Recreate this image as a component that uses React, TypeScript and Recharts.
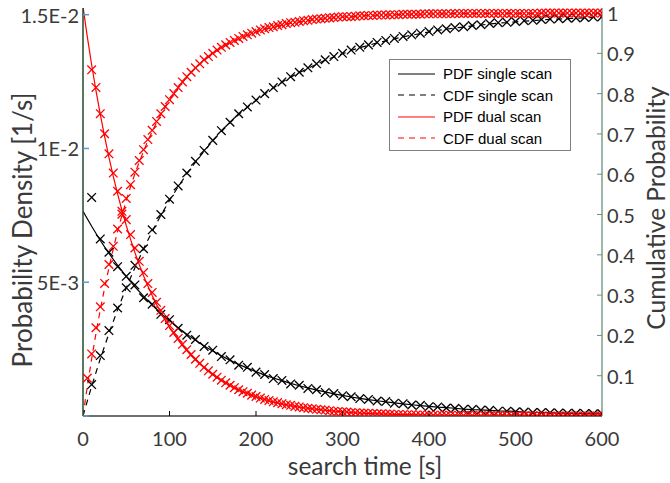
import React from "react";
import {
  ComposedChart,
  Line,
  Scatter,
  XAxis,
  YAxis,
  Legend,
} from "recharts";

// time grids [s]
const tSingle = [
  0, 10, 20, 30, 40, 50, 60, 70, 80, 90, 100, 110, 120, 130, 140, 150, 160, 170, 180, 190, 200,
  210, 220, 230, 240, 250, 260, 270, 280, 290, 300, 310, 320, 330, 340, 350, 360, 370, 380, 390, 400,
  410, 420, 430, 440, 450, 460, 470, 480, 490, 500, 510, 520, 530, 540, 550, 560, 570, 580, 590, 600,
];
const tDual = [
  0, 5, 10, 15, 20, 25, 30, 35, 40, 45, 50, 55, 60, 65, 70, 75, 80, 85, 90, 95, 100,
  105, 110, 115, 120, 125, 130, 135, 140, 145, 150, 155, 160, 165, 170, 175, 180, 185, 190, 195, 200,
  205, 210, 215, 220, 225, 230, 235, 240, 245, 250, 255, 260, 265, 270, 275, 280, 285, 290, 295, 300,
  305, 310, 315, 320, 325, 330, 335, 340, 345, 350, 355, 360, 365, 370, 375, 380, 385, 390, 395, 400,
  405, 410, 415, 420, 425, 430, 435, 440, 445, 450, 455, 460, 465, 470, 475, 480, 485, 490, 495, 500,
  505, 510, 515, 520, 525, 530, 535, 540, 545, 550, 555, 560, 565, 570, 575, 580, 585, 590, 595, 600,
];

// PDF values in units of 1E-3 1/s
const pdfSingle = [
  7.65, 7.09, 6.56, 6.08, 5.63, 5.22, 4.83, 4.48, 4.15, 3.84, 3.56, 3.30, 3.06, 2.83, 2.62, 2.43,
  2.25, 2.08, 1.93, 1.79, 1.66, 1.53, 1.42, 1.32, 1.22, 1.13, 1.05, 0.97, 0.90, 0.83, 0.77, 0.71,
  0.66, 0.61, 0.57, 0.53, 0.49, 0.45, 0.42, 0.39, 0.36, 0.33, 0.31, 0.29, 0.26, 0.24, 0.23, 0.21,
  0.19, 0.18, 0.17, 0.15, 0.14, 0.13, 0.12, 0.11, 0.11, 0.10, 0.09, 0.08, 0.08,
];
const pdfSingleMeas = [
  null, 8.17, 6.62, 6.12, 5.58, 5.22, 4.90, 4.42, 4.18, 3.80, 3.60, 3.28, 3.02, 2.86, 2.60, 2.46,
  2.22, 2.10, 1.90, 1.82, 1.64, 1.55, 1.40, 1.33, 1.20, 1.15, 1.03, 0.98, 0.88, 0.84, 0.76, 0.72,
  0.65, 0.62, 0.56, 0.54, 0.48, 0.46, 0.41, 0.40, 0.35, 0.34, 0.30, 0.29, 0.25, 0.25, 0.22, 0.21,
  0.18, 0.18, 0.16, 0.15, 0.13, 0.13, 0.12, 0.11, 0.10, 0.10, 0.09, 0.08, 0.08,
];
const cdfSingle = [
  0, 0.074, 0.142, 0.205, 0.264, 0.318, 0.368, 0.415, 0.458, 0.498, 0.535, 0.569, 0.601, 0.630,
  0.657, 0.683, 0.706, 0.728, 0.748, 0.766, 0.783, 0.799, 0.814, 0.828, 0.841, 0.852, 0.863, 0.873,
  0.883, 0.891, 0.899, 0.907, 0.914, 0.920, 0.926, 0.931, 0.936, 0.941, 0.945, 0.949, 0.953, 0.957,
  0.960, 0.963, 0.965, 0.968, 0.970, 0.973, 0.975, 0.976, 0.978, 0.980, 0.981, 0.983, 0.984, 0.985,
  0.986, 0.987, 0.988, 0.989, 0.990,
];
const cdfSingleMeas = [
  null, 0.078, 0.150, 0.212, 0.268, 0.318, 0.374, 0.415, 0.462, 0.500, 0.538, 0.571, 0.603, 0.632,
  0.659, 0.684, 0.708, 0.729, 0.750, 0.767, 0.784, 0.800, 0.815, 0.829, 0.842, 0.853, 0.864, 0.874,
  0.884, 0.892, 0.900, 0.908, 0.915, 0.921, 0.927, 0.932, 0.937, 0.942, 0.946, 0.950, 0.954, 0.958,
  0.961, 0.964, 0.966, 0.969, 0.971, 0.974, 0.976, 0.977, 0.979, 0.981, 0.982, 0.984, 0.985, 0.986,
  0.987, 0.988, 0.989, 0.990, 0.991,
];

const pdfDual = [
  15.30, 14.17, 13.13, 12.16, 11.27, 10.44, 9.67, 8.96, 8.30, 7.69, 7.12,
  6.60, 6.11, 5.66, 5.24, 4.86, 4.50, 4.17, 3.86, 3.58, 3.31,
  3.07, 2.84, 2.63, 2.44, 2.26, 2.09, 1.94, 1.80, 1.66, 1.54,
  1.43, 1.32, 1.23, 1.14, 1.05, 0.97, 0.90, 0.84, 0.77, 0.72,
  0.66, 0.62, 0.57, 0.53, 0.49, 0.45, 0.42, 0.39, 0.36, 0.33,
  0.31, 0.29, 0.27, 0.25, 0.23, 0.21, 0.20, 0.18, 0.17, 0.16,
  0.14, 0.13, 0.12, 0.11, 0.10, 0.10, 0.09, 0.08, 0.08, 0.07,
  0.07, 0.06, 0.06, 0.05, 0.05, 0.05, 0.04, 0.04, 0.04, 0.03,
  0.03, 0.03, 0.03, 0.03, 0.02, 0.02, 0.02, 0.02, 0.02, 0.02,
  0.02, 0.01, 0.01, 0.01, 0.01, 0.01, 0.01, 0.01, 0.01, 0.01,
  0.01, 0.01, 0.01, 0.01, 0.01, 0.00, 0.00, 0.00, 0.00, 0.00,
  0.00, 0.00, 0.00, 0.00, 0.00, 0.00, 0.00, 0.00, 0.00, 0.00,
];
const pdfDualMeas = [
  null, null, 12.94, 12.28, 11.30, 10.55, 9.80, 9.08, 8.40, 7.65, 7.34,
  6.78, 6.28, 5.78, 5.36, 4.95, 4.62, 4.25, 3.95, 3.64, 3.38,
  3.12, 2.90, 2.68, 2.48, 2.30, 2.12, 1.97, 1.82, 1.69, 1.56,
  1.45, 1.34, 1.24, 1.15, 1.06, 0.98, 0.91, 0.85, 0.78, 0.73,
  0.67, 0.62, 0.58, 0.53, 0.50, 0.46, 0.42, 0.40, 0.36, 0.34,
  0.31, 0.29, 0.27, 0.25, 0.23, 0.22, 0.20, 0.18, 0.17, 0.16,
  0.15, 0.13, 0.12, 0.11, 0.11, 0.10, 0.09, 0.08, 0.08, 0.07,
  0.07, 0.06, 0.06, 0.05, 0.05, 0.05, 0.04, 0.04, 0.04, 0.03,
  0.03, 0.03, 0.03, 0.03, 0.02, 0.02, 0.02, 0.02, 0.02, 0.02,
  0.02, 0.01, 0.01, 0.01, 0.01, 0.01, 0.01, 0.01, 0.01, 0.01,
  0.01, 0.01, 0.01, 0.01, 0.01, 0.00, 0.00, 0.00, 0.00, 0.00,
  0.00, 0.00, 0.00, 0.00, 0.00, 0.00, 0.00, 0.00, 0.00, 0.00,
];
const cdfDual = [
  0, 0.074, 0.142, 0.205, 0.264, 0.318, 0.368, 0.415, 0.458, 0.498, 0.535,
  0.569, 0.601, 0.630, 0.657, 0.683, 0.706, 0.728, 0.748, 0.766, 0.783,
  0.799, 0.814, 0.828, 0.841, 0.852, 0.863, 0.873, 0.883, 0.891, 0.899,
  0.907, 0.914, 0.920, 0.926, 0.931, 0.936, 0.941, 0.945, 0.949, 0.953,
  0.957, 0.960, 0.963, 0.965, 0.968, 0.970, 0.973, 0.975, 0.976, 0.978,
  0.980, 0.981, 0.983, 0.984, 0.985, 0.986, 0.987, 0.988, 0.989, 0.990,
  0.991, 0.991, 0.992, 0.993, 0.993, 0.994, 0.994, 0.995, 0.995, 0.995,
  0.996, 0.996, 0.996, 0.997, 0.997, 0.997, 0.997, 0.997, 0.998, 0.998,
  0.998, 0.998, 0.998, 0.998, 0.998, 0.999, 0.999, 0.999, 0.999, 0.999,
  0.999, 0.999, 0.999, 0.999, 0.999, 0.999, 0.999, 0.999, 0.999, 0.999,
  0.999, 0.999, 0.999, 0.999, 0.999, 1.000, 1.000, 1.000, 1.000, 1.000,
  1.000, 1.000, 1.000, 1.000, 1.000, 1.000, 1.000, 1.000, 1.000, 1.000,
];
const cdfDualMeas = [
  null, 0.094, 0.154, 0.219, 0.271, 0.329, 0.376, 0.421, 0.464, 0.501, 0.540,
  0.574, 0.605, 0.634, 0.661, 0.686, 0.709, 0.731, 0.750, 0.768, 0.785,
  0.800, 0.815, 0.829, 0.842, 0.853, 0.864, 0.874, 0.884, 0.892, 0.900,
  0.908, 0.915, 0.921, 0.927, 0.932, 0.937, 0.942, 0.946, 0.950, 0.954,
  0.958, 0.961, 0.964, 0.966, 0.969, 0.971, 0.974, 0.976, 0.977, 0.979,
  0.981, 0.982, 0.984, 0.985, 0.986, 0.987, 0.988, 0.989, 0.990, 0.991,
  0.991, 0.991, 0.992, 0.993, 0.993, 0.994, 0.994, 0.995, 0.995, 0.995,
  0.996, 0.996, 0.996, 0.997, 0.997, 0.997, 0.997, 0.997, 0.998, 0.998,
  0.998, 0.998, 0.998, 0.998, 0.998, 0.999, 0.999, 0.999, 0.999, 0.999,
  0.999, 0.999, 0.999, 0.999, 0.999, 0.999, 0.999, 0.999, 0.999, 0.999,
  0.999, 0.999, 0.999, 0.999, 0.999, 1.000, 1.000, 1.000, 1.000, 1.000,
  1.000, 1.000, 1.000, 1.000, 1.000, 1.000, 1.000, 1.000, 1.000, 1.000,
];

const xTicks = [0, 100, 200, 300, 400, 500, 600];
const leftTicks = [0, 0.005, 0.01, 0.015];
const leftTickLabels = ["", "5E-3", "1E-2", "1.5E-2"];
const rightTicks = [0.1, 0.2, 0.3, 0.4, 0.5, 0.6, 0.7, 0.8, 0.9, 1];

const legendItems = [
  { label: "PDF single scan", color: "#000000", dash: undefined },
  { label: "CDF single scan", color: "#000000", dash: "6 5" },
  { label: "PDF dual scan", color: "#ff0000", dash: undefined },
  { label: "CDF dual scan", color: "#ff0000", dash: "6 5" },
];

const W = 670;
const H = 483;
const PLOT_LEFT = 83;
const PLOT_RIGHT = 602;
const PLOT_TOP = 8;
const PLOT_BOTTOM = 416;
const TICK_FONT = "Lato, 'Open Sans', sans-serif";
const TEXT_COLOR = "#3a3a3a";

const singleRows = tSingle.map((t, i) => ({
  t,
  pdf: pdfSingle[i] * 1e-3,
  cdf: cdfSingle[i],
  pdfMeas: pdfSingleMeas[i] == null ? null : (pdfSingleMeas[i] as number) * 1e-3,
  cdfMeas: cdfSingleMeas[i],
}));
const dualRows = tDual.map((t, i) => ({
  t,
  pdf: pdfDual[i] * 1e-3,
  cdf: cdfDual[i],
  pdfMeas: pdfDualMeas[i] == null ? null : (pdfDualMeas[i] as number) * 1e-3,
  cdfMeas: cdfDualMeas[i],
}));

const crossShape = (color: string) => (props: any) => {
  const { cx, cy } = props;
  if (cx == null || cy == null || isNaN(cx) || isNaN(cy)) return <g />;
  const s = 4.3;
  return (
    <g stroke={color} strokeWidth={1.3}>
      <line x1={cx - s} y1={cy - s} x2={cx + s} y2={cy + s} />
      <line x1={cx - s} y1={cy + s} x2={cx + s} y2={cy - s} />
    </g>
  );
};

const BottomTick = (props: any) => {
  const { x, payload } = props;
  const v = payload.value;
  return (
    <g>
      {v > 0 && v < 600 && (
        <line x1={x} x2={x} y1={PLOT_BOTTOM} y2={PLOT_BOTTOM - 5} stroke="#000" strokeWidth={1} />
      )}
      <text
        x={x}
        y={438}
        textAnchor="middle"
        dominantBaseline="central"
        fontFamily={TICK_FONT}
        fontSize={20}
        fill={TEXT_COLOR}
      >
        {v}
      </text>
    </g>
  );
};

const TopTick = (props: any) => {
  const { x, payload } = props;
  const v = payload.value;
  if (v <= 0 || v >= 600) return <g />;
  return <line x1={x} x2={x} y1={PLOT_TOP} y2={PLOT_TOP + 5} stroke="#000" strokeWidth={1} />;
};

const LeftTick = (props: any) => {
  const { y, payload } = props;
  const idx = leftTicks.indexOf(payload.value);
  return (
    <g>
      <line x1={PLOT_LEFT} x2={PLOT_LEFT + 6} y1={y} y2={y} stroke="#5b9bd5" strokeWidth={1.5} />
      <text
        x={79}
        y={y}
        textAnchor="end"
        dominantBaseline="central"
        fontFamily={TICK_FONT}
        fontSize={20}
        fill={TEXT_COLOR}
      >
        {leftTickLabels[idx]}
      </text>
    </g>
  );
};

const RightTick = (props: any) => {
  const { y, payload } = props;
  return (
    <g>
      {payload.value < 1 && (
        <line x1={PLOT_RIGHT - 5} x2={PLOT_RIGHT} y1={y} y2={y} stroke="#6f8f7f" strokeWidth={1} />
      )}
      <text
        x={607}
        y={y}
        textAnchor="start"
        dominantBaseline="central"
        fontFamily={TICK_FONT}
        fontSize={20}
        fill={TEXT_COLOR}
      >
        {payload.value}
      </text>
    </g>
  );
};

const LegendBox = () => (
  <div
    style={{
      position: "absolute",
      left: 389,
      top: 59,
      width: 182,
      height: 92,
      border: "1px solid #7f7f7f",
      background: "#fff",
      boxSizing: "border-box",
      paddingTop: 3,
    }}
  >
    {legendItems.map((it) => (
      <div
        key={it.label}
        style={{ display: "flex", alignItems: "center", height: 21.5 }}
      >
        <svg width={52} height={10} style={{ marginLeft: 7 }}>
          <line
            x1={1}
            x2={38}
            y1={5}
            y2={5}
            stroke={it.color}
            strokeWidth={1}
            strokeDasharray={it.dash}
          />
        </svg>
        <span
          style={{
            fontFamily: "'Liberation Sans', Arial, sans-serif",
            fontSize: 15,
            color: "#000",
            marginLeft: -6,
          }}
        >
          {it.label}
        </span>
      </div>
    ))}
  </div>
);

export default function App() {
  return (
    <div style={{ position: "absolute", left: 0, top: 0, width: W, height: H, background: "#fff" }}>
      <ComposedChart width={W} height={H} margin={{ top: PLOT_TOP, right: 0, bottom: 0, left: 0 }}>
        <XAxis
          dataKey="t"
          type="number"
          domain={[0, 600]}
          ticks={xTicks}
          allowDataOverflow
          height={H - PLOT_BOTTOM}
          axisLine={{ stroke: "#404040", strokeWidth: 1.5 }}
          tickLine={false}
          tick={<BottomTick />}
        />
        <XAxis
          xAxisId="top"
          orientation="top"
          dataKey="t"
          type="number"
          domain={[0, 600]}
          ticks={xTicks}
          height={0}
          axisLine={{ stroke: "#808080", strokeWidth: 1.5 }}
          tickLine={false}
          tick={<TopTick />}
        />
        <YAxis
          yAxisId="left"
          type="number"
          domain={[0, 0.01525]}
          ticks={leftTicks}
          allowDataOverflow
          width={PLOT_LEFT}
          axisLine={{ stroke: "#1f4a2a", strokeWidth: 1.5 }}
          tickLine={false}
          tick={<LeftTick />}
        />
        <YAxis
          yAxisId="right"
          orientation="right"
          type="number"
          domain={[0, 1.0125]}
          ticks={rightTicks}
          allowDataOverflow
          width={W - PLOT_RIGHT}
          axisLine={{ stroke: "#7f9f8f", strokeWidth: 1.5 }}
          tickLine={false}
          tick={<RightTick />}
        />

        <Line
          data={singleRows}
          dataKey="pdf"
          yAxisId="left"
          stroke="#000"
          strokeWidth={1.2}
          dot={false}
          isAnimationActive={false}
        />
        <Line
          data={singleRows}
          dataKey="cdf"
          yAxisId="right"
          stroke="#000"
          strokeWidth={1.2}
          strokeDasharray="6 5"
          dot={false}
          isAnimationActive={false}
        />
        <Line
          data={dualRows}
          dataKey="pdf"
          yAxisId="left"
          stroke="#ff0000"
          strokeWidth={1.2}
          dot={false}
          isAnimationActive={false}
        />
        <Line
          data={dualRows}
          dataKey="cdf"
          yAxisId="right"
          stroke="#ff0000"
          strokeWidth={1.2}
          strokeDasharray="6 5"
          dot={false}
          isAnimationActive={false}
        />

        <Scatter
          data={singleRows.filter((r) => r.pdfMeas != null)}
          dataKey="pdfMeas"
          yAxisId="left"
          shape={crossShape("#000")}
          isAnimationActive={false}
        />
        <Scatter
          data={singleRows.filter((r) => r.cdfMeas != null)}
          dataKey="cdfMeas"
          yAxisId="right"
          shape={crossShape("#000")}
          isAnimationActive={false}
        />
        <Scatter
          data={dualRows.filter((r) => r.pdfMeas != null)}
          dataKey="pdfMeas"
          yAxisId="left"
          shape={crossShape("#ff0000")}
          isAnimationActive={false}
        />
        <Scatter
          data={dualRows.filter((r) => r.cdfMeas != null)}
          dataKey="cdfMeas"
          yAxisId="right"
          shape={crossShape("#ff0000")}
          isAnimationActive={false}
        />
        <Legend content={() => null} />
      </ComposedChart>

      <svg
        width={W}
        height={H}
        style={{ position: "absolute", left: 0, top: 0, pointerEvents: "none" }}
      >
        <text
          x={365}
          y={465}
          textAnchor="middle"
          dominantBaseline="central"
          fontFamily={TICK_FONT}
          fontSize={24.5}
          fill={TEXT_COLOR}
        >
          search time [s]
        </text>
        <text
          transform="translate(22,230) rotate(-90)"
          textAnchor="middle"
          dominantBaseline="central"
          fontFamily={TICK_FONT}
          fontSize={26}
          fill={TEXT_COLOR}
        >
          Probability Density [1/s]
        </text>
        <text
          transform="translate(655,208) rotate(-90)"
          textAnchor="middle"
          dominantBaseline="central"
          fontFamily={TICK_FONT}
          fontSize={24.5}
          fill={TEXT_COLOR}
        >
          Cumulative Probability
        </text>
      </svg>
      <LegendBox />
    </div>
  );
}
